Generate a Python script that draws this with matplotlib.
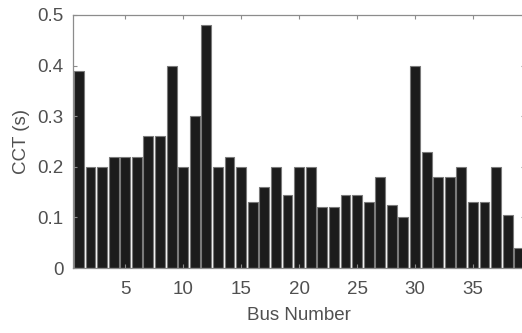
"""Critical clearing time per bus, bar chart."""
import numpy as np
import matplotlib
matplotlib.use("Agg")
import matplotlib.pyplot as plt

BUSES = list(range(1, 40))
CCT = [0.39, 0.20, 0.20, 0.22, 0.22, 0.22, 0.26, 0.26, 0.40, 0.20,
       0.30, 0.48, 0.20, 0.22, 0.20, 0.13, 0.16, 0.20, 0.145, 0.20,
       0.20, 0.12, 0.12, 0.145, 0.145, 0.13, 0.18, 0.125, 0.10, 0.40,
       0.23, 0.18, 0.18, 0.20, 0.13, 0.13, 0.20, 0.105, 0.04]
XTICKS = [5, 10, 15, 20, 25, 30, 35]
YTICKS = [0, 0.1, 0.2, 0.3, 0.4, 0.5]

TEXT = "#505050"
AXC = "#8c8c8c"

plt.rcParams["font.family"] = ["Liberation Sans", "DejaVu Sans"]

fig = plt.figure(figsize=(5.22, 3.33), dpi=100)
ax = fig.add_axes([0.14, 0.195, 0.866, 0.76])
ax.bar(BUSES, CCT, width=0.85, color="#1c1c1c", edgecolor="#7a7a7a", linewidth=0.8)

ax.set_xlim(0.5, 39.5)
ax.set_ylim(0, 0.5)
ax.set_xticks(XTICKS)
ax.set_yticks(YTICKS)
ax.set_yticklabels(["0", "0.1", "0.2", "0.3", "0.4", "0.5"])
ax.tick_params(direction="in", colors=TEXT, labelsize=13.5, length=3,
               top=True, right=True, color=AXC)
ax.tick_params(axis="x", pad=9)
ax.tick_params(axis="y", pad=7)
for s in ax.spines.values():
    s.set_color(AXC)
    s.set_linewidth(0.9)

ax.set_xlabel("Bus Number", fontsize=13.5, color=TEXT, labelpad=7)
ax.set_ylabel("CCT (s)", fontsize=13.5, color=TEXT, labelpad=5)

fig.savefig("out.png", dpi=100)
